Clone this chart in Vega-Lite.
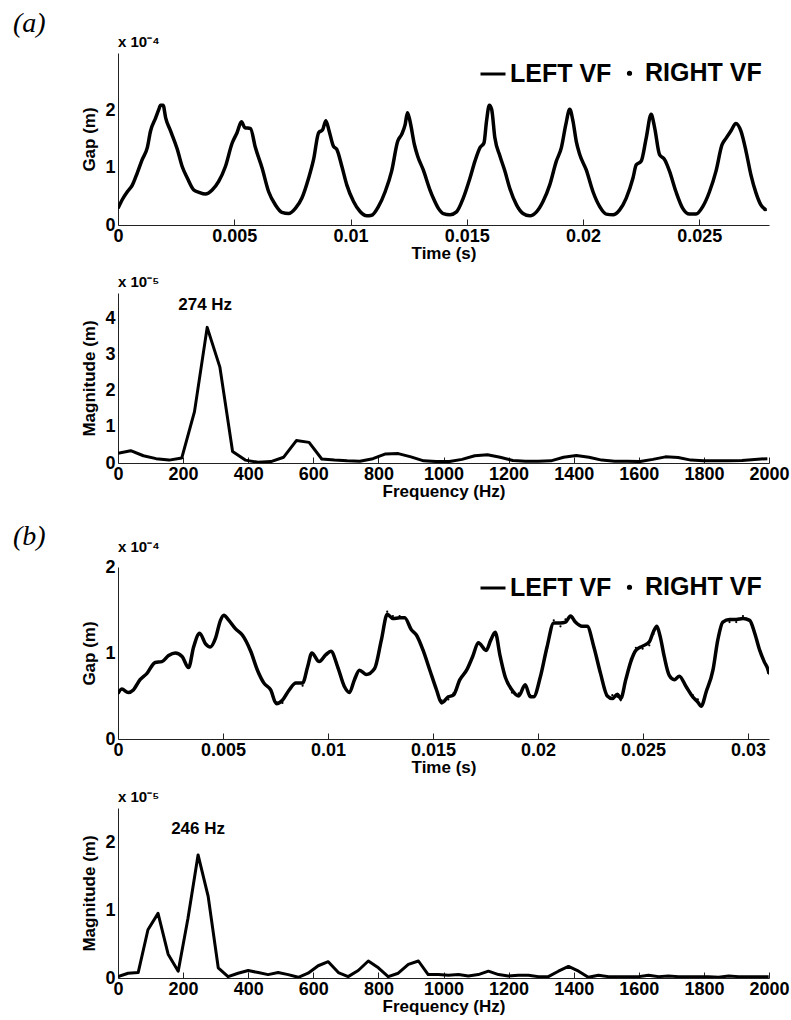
{
  "$schema": "https://vega.github.io/schema/vega-lite/v6.json",
  "padding": {"left": 12, "top": 10, "right": 5, "bottom": 5},
  "background": "white",
  "datasets": {
    "gapA": [
      {"t":0,"left":0.29e-4,"right":0.29e-4},{"t":0.00018,"left":0.44e-4,"right":0.44e-4},{"t":0.0004,"left":0.58e-4,"right":0.58e-4},{"t":0.00061,"left":0.69e-4,"right":0.69e-4},{"t":0.00083,"left":0.91e-4,"right":0.91e-4},{"t":0.00104,"left":1.14e-4,"right":1.14e-4},{"t":0.00126,"left":1.35e-4,"right":1.35e-4},{"t":0.0014,"left":1.64e-4,"right":1.64e-4},{"t":0.00162,"left":1.87e-4,"right":1.87e-4},{"t":0.00176,"left":2.02e-4,"right":2.02e-4},{"t":0.00183,"left":2.09e-4,"right":2.09e-4},{"t":0.00194,"left":2.09e-4,"right":2.09e-4},{"t":0.00205,"left":1.87e-4,"right":1.87e-4},{"t":0.00226,"left":1.64e-4,"right":1.64e-4},{"t":0.00255,"left":1.32e-4,"right":1.32e-4},{"t":0.00276,"left":1.02e-4,"right":1.02e-4},{"t":0.00298,"left":0.82e-4,"right":0.82e-4},{"t":0.00326,"left":0.61e-4,"right":0.61e-4},{"t":0.00348,"left":0.57e-4,"right":0.57e-4},{"t":0.00376,"left":0.54e-4,"right":0.54e-4},{"t":0.00405,"left":0.61e-4,"right":0.61e-4},{"t":0.00433,"left":0.76e-4,"right":0.76e-4},{"t":0.00462,"left":1.02e-4,"right":1.02e-4},{"t":0.00491,"left":1.43e-4,"right":1.43e-4},{"t":0.00512,"left":1.61e-4,"right":1.61e-4},{"t":0.00531,"left":1.80e-4,"right":1.80e-4},{"t":0.00545,"left":1.70e-4,"right":1.70e-4},{"t":0.0057,"left":1.68e-4,"right":1.68e-4},{"t":0.00591,"left":1.35e-4,"right":1.35e-4},{"t":0.0062,"left":0.99e-4,"right":0.99e-4},{"t":0.00648,"left":0.58e-4,"right":0.58e-4},{"t":0.00677,"left":0.35e-4,"right":0.35e-4},{"t":0.00705,"left":0.22e-4,"right":0.22e-4},{"t":0.00734,"left":0.20e-4,"right":0.20e-4},{"t":0.00763,"left":0.29e-4,"right":0.29e-4},{"t":0.00791,"left":0.47e-4,"right":0.47e-4},{"t":0.0082,"left":0.82e-4,"right":0.82e-4},{"t":0.00841,"left":1.14e-4,"right":1.14e-4},{"t":0.00863,"left":1.61e-4,"right":1.61e-4},{"t":0.0088,"left":1.66e-4,"right":1.66e-4},{"t":0.00894,"left":1.82e-4,"right":1.82e-4},{"t":0.00908,"left":1.64e-4,"right":1.64e-4},{"t":0.00927,"left":1.37e-4,"right":1.37e-4},{"t":0.00941,"left":1.32e-4,"right":1.32e-4},{"t":0.00963,"left":1.02e-4,"right":1.02e-4},{"t":0.00984,"left":0.70e-4,"right":0.70e-4},{"t":0.01013,"left":0.41e-4,"right":0.41e-4},{"t":0.01042,"left":0.23e-4,"right":0.23e-4},{"t":0.0107,"left":0.16e-4,"right":0.16e-4},{"t":0.01091,"left":0.17e-4,"right":0.17e-4},{"t":0.0112,"left":0.32e-4,"right":0.32e-4},{"t":0.01149,"left":0.58e-4,"right":0.58e-4},{"t":0.01177,"left":0.94e-4,"right":0.94e-4},{"t":0.01203,"left":1.46e-4,"right":1.46e-4},{"t":0.0122,"left":1.58e-4,"right":1.58e-4},{"t":0.01235,"left":1.75e-4,"right":1.75e-4},{"t":0.01245,"left":1.96e-4,"right":1.96e-4},{"t":0.01256,"left":1.81e-4,"right":1.81e-4},{"t":0.01275,"left":1.40e-4,"right":1.40e-4},{"t":0.01289,"left":1.20e-4,"right":1.20e-4},{"t":0.01313,"left":0.96e-4,"right":0.96e-4},{"t":0.01342,"left":0.61e-4,"right":0.61e-4},{"t":0.01356,"left":0.47e-4,"right":0.47e-4},{"t":0.01378,"left":0.29e-4,"right":0.29e-4},{"t":0.01399,"left":0.20e-4,"right":0.20e-4},{"t":0.01428,"left":0.18e-4,"right":0.18e-4},{"t":0.01456,"left":0.23e-4,"right":0.23e-4},{"t":0.01485,"left":0.47e-4,"right":0.47e-4},{"t":0.01514,"left":0.82e-4,"right":0.82e-4},{"t":0.01535,"left":1.11e-4,"right":1.11e-4},{"t":0.01557,"left":1.35e-4,"right":1.35e-4},{"t":0.01574,"left":1.43e-4,"right":1.43e-4},{"t":0.01585,"left":1.81e-4,"right":1.81e-4},{"t":0.01597,"left":2.09e-4,"right":2.09e-4},{"t":0.01607,"left":2.02e-4,"right":2.02e-4},{"t":0.01621,"left":1.52e-4,"right":1.52e-4},{"t":0.01643,"left":1.20e-4,"right":1.20e-4},{"t":0.01664,"left":0.94e-4,"right":0.94e-4},{"t":0.01685,"left":0.64e-4,"right":0.64e-4},{"t":0.01714,"left":0.35e-4,"right":0.35e-4},{"t":0.01742,"left":0.20e-4,"right":0.20e-4},{"t":0.01771,"left":0.16e-4,"right":0.16e-4},{"t":0.018,"left":0.23e-4,"right":0.23e-4},{"t":0.01828,"left":0.41e-4,"right":0.41e-4},{"t":0.01857,"left":0.70e-4,"right":0.70e-4},{"t":0.01885,"left":1.11e-4,"right":1.11e-4},{"t":0.01907,"left":1.35e-4,"right":1.35e-4},{"t":0.01926,"left":1.75e-4,"right":1.75e-4},{"t":0.01943,"left":2.02e-4,"right":2.02e-4},{"t":0.01957,"left":1.81e-4,"right":1.81e-4},{"t":0.01971,"left":1.46e-4,"right":1.46e-4},{"t":0.01986,"left":1.23e-4,"right":1.23e-4},{"t":0.02014,"left":0.96e-4,"right":0.96e-4},{"t":0.02043,"left":0.58e-4,"right":0.58e-4},{"t":0.02072,"left":0.32e-4,"right":0.32e-4},{"t":0.021,"left":0.19e-4,"right":0.19e-4},{"t":0.02129,"left":0.18e-4,"right":0.18e-4},{"t":0.02157,"left":0.26e-4,"right":0.26e-4},{"t":0.02186,"left":0.47e-4,"right":0.47e-4},{"t":0.02215,"left":0.82e-4,"right":0.82e-4},{"t":0.02229,"left":1.05e-4,"right":1.05e-4},{"t":0.0225,"left":1.11e-4,"right":1.11e-4},{"t":0.02272,"left":1.52e-4,"right":1.52e-4},{"t":0.02293,"left":1.93e-4,"right":1.93e-4},{"t":0.02308,"left":1.70e-4,"right":1.70e-4},{"t":0.02329,"left":1.23e-4,"right":1.23e-4},{"t":0.02351,"left":1.14e-4,"right":1.14e-4},{"t":0.02372,"left":0.94e-4,"right":0.94e-4},{"t":0.024,"left":0.58e-4,"right":0.58e-4},{"t":0.02429,"left":0.29e-4,"right":0.29e-4},{"t":0.02458,"left":0.19e-4,"right":0.19e-4},{"t":0.02486,"left":0.19e-4,"right":0.19e-4},{"t":0.02515,"left":0.32e-4,"right":0.32e-4},{"t":0.02544,"left":0.58e-4,"right":0.58e-4},{"t":0.02572,"left":0.94e-4,"right":0.94e-4},{"t":0.02598,"left":1.40e-4,"right":1.40e-4},{"t":0.02615,"left":1.51e-4,"right":1.51e-4},{"t":0.02636,"left":1.64e-4,"right":1.64e-4},{"t":0.02658,"left":1.77e-4,"right":1.77e-4},{"t":0.02679,"left":1.64e-4,"right":1.64e-4},{"t":0.02701,"left":1.29e-4,"right":1.29e-4},{"t":0.02722,"left":0.88e-4,"right":0.88e-4},{"t":0.02744,"left":0.56e-4,"right":0.56e-4},{"t":0.02765,"left":0.35e-4,"right":0.35e-4},{"t":0.02787,"left":0.26e-4,"right":0.26e-4}
    ],
    "specA": [
      {"f":0,"mag":0.27e-5},{"f":39,"mag":0.34e-5},{"f":78,"mag":0.20e-5},{"f":117,"mag":0.12e-5},{"f":157,"mag":0.08e-5},{"f":196,"mag":0.14e-5},{"f":235,"mag":1.42e-5},{"f":274,"mag":3.75e-5,"peak":"274 Hz"},{"f":313,"mag":2.65e-5},{"f":352,"mag":0.32e-5},{"f":391,"mag":0.08e-5},{"f":430,"mag":0.02e-5},{"f":470,"mag":0.04e-5},{"f":509,"mag":0.16e-5},{"f":548,"mag":0.62e-5},{"f":587,"mag":0.57e-5},{"f":626,"mag":0.11e-5},{"f":665,"mag":0.08e-5},{"f":704,"mag":0.06e-5},{"f":743,"mag":0.05e-5},{"f":783,"mag":0.12e-5},{"f":822,"mag":0.25e-5},{"f":861,"mag":0.26e-5},{"f":900,"mag":0.17e-5},{"f":939,"mag":0.06e-5},{"f":978,"mag":0.04e-5},{"f":1018,"mag":0.04e-5},{"f":1057,"mag":0.10e-5},{"f":1096,"mag":0.20e-5},{"f":1135,"mag":0.23e-5},{"f":1174,"mag":0.16e-5},{"f":1213,"mag":0.07e-5},{"f":1252,"mag":0.05e-5},{"f":1291,"mag":0.05e-5},{"f":1330,"mag":0.06e-5},{"f":1369,"mag":0.16e-5},{"f":1408,"mag":0.21e-5},{"f":1447,"mag":0.16e-5},{"f":1486,"mag":0.08e-5},{"f":1526,"mag":0.05e-5},{"f":1565,"mag":0.05e-5},{"f":1604,"mag":0.04e-5},{"f":1643,"mag":0.10e-5},{"f":1682,"mag":0.17e-5},{"f":1721,"mag":0.15e-5},{"f":1760,"mag":0.08e-5},{"f":1799,"mag":0.06e-5},{"f":1838,"mag":0.06e-5},{"f":1877,"mag":0.06e-5},{"f":1917,"mag":0.07e-5},{"f":1956,"mag":0.10e-5},{"f":1995,"mag":0.12e-5}
    ],
    "gapB": [
      {"t":0,"left":0.53e-4,"right":0.53e-4},{"t":0.00018,"left":0.58e-4,"right":0.58e-4},{"t":0.00049,"left":0.54e-4,"right":0.54e-4},{"t":0.00073,"left":0.57e-4,"right":0.57e-4},{"t":0.00105,"left":0.69e-4,"right":0.69e-4},{"t":0.00137,"left":0.76e-4,"right":0.76e-4},{"t":0.00177,"left":0.89e-4,"right":0.89e-4},{"t":0.00209,"left":0.90e-4,"right":0.90e-4},{"t":0.00241,"left":0.97e-4,"right":0.97e-4},{"t":0.00273,"left":1.00e-4,"right":1.00e-4},{"t":0.00305,"left":0.96e-4,"right":0.96e-4},{"t":0.00336,"left":0.83e-4,"right":0.83e-4},{"t":0.0036,"left":1.07e-4,"right":1.07e-4},{"t":0.00389,"left":1.23e-4,"right":1.23e-4},{"t":0.00416,"left":1.11e-4,"right":1.11e-4},{"t":0.0044,"left":1.07e-4,"right":1.07e-4},{"t":0.00464,"left":1.17e-4,"right":1.17e-4},{"t":0.00488,"left":1.38e-4,"right":1.38e-4},{"t":0.00504,"left":1.44e-4,"right":1.44e-4},{"t":0.00528,"left":1.38e-4,"right":1.38e-4},{"t":0.0056,"left":1.28e-4,"right":1.28e-4},{"t":0.00592,"left":1.21e-4,"right":1.21e-4},{"t":0.00632,"left":1.02e-4,"right":1.02e-4},{"t":0.00664,"left":0.80e-4,"right":0.80e-4},{"t":0.00695,"left":0.65e-4,"right":0.65e-4},{"t":0.00727,"left":0.57e-4,"right":0.57e-4},{"t":0.00754,"left":0.41e-4,"right":0.43e-4},{"t":0.00783,"left":0.45e-4,"right":0.42e-4},{"t":0.00815,"left":0.57e-4,"right":0.57e-4},{"t":0.00847,"left":0.65e-4,"right":0.65e-4},{"t":0.00879,"left":0.65e-4,"right":0.62e-4},{"t":0.00903,"left":0.84e-4,"right":0.84e-4},{"t":0.00923,"left":1.00e-4,"right":1.00e-4},{"t":0.00958,"left":0.90e-4,"right":0.90e-4},{"t":0.0099,"left":0.98e-4,"right":0.98e-4},{"t":0.01014,"left":1.02e-4,"right":1.02e-4},{"t":0.01046,"left":0.84e-4,"right":0.84e-4},{"t":0.01078,"left":0.61e-4,"right":0.61e-4},{"t":0.01102,"left":0.54e-4,"right":0.54e-4},{"t":0.01126,"left":0.69e-4,"right":0.69e-4},{"t":0.0115,"left":0.80e-4,"right":0.80e-4},{"t":0.01182,"left":0.75e-4,"right":0.75e-4},{"t":0.01222,"left":0.82e-4,"right":0.82e-4},{"t":0.01254,"left":1.15e-4,"right":1.15e-4},{"t":0.01282,"left":1.45e-4,"right":1.48e-4},{"t":0.01309,"left":1.40e-4,"right":1.43e-4},{"t":0.01341,"left":1.41e-4,"right":1.43e-4},{"t":0.01365,"left":1.41e-4,"right":1.41e-4},{"t":0.01397,"left":1.27e-4,"right":1.27e-4},{"t":0.01421,"left":1.21e-4,"right":1.21e-4},{"t":0.01453,"left":1.03e-4,"right":1.03e-4},{"t":0.01485,"left":0.80e-4,"right":0.80e-4},{"t":0.01517,"left":0.57e-4,"right":0.57e-4},{"t":0.01541,"left":0.42e-4,"right":0.45e-4},{"t":0.01573,"left":0.49e-4,"right":0.46e-4},{"t":0.01597,"left":0.51e-4,"right":0.53e-4},{"t":0.01628,"left":0.69e-4,"right":0.69e-4},{"t":0.0166,"left":0.80e-4,"right":0.80e-4},{"t":0.01689,"left":0.96e-4,"right":0.96e-4},{"t":0.01716,"left":1.12e-4,"right":1.12e-4},{"t":0.01753,"left":1.03e-4,"right":1.03e-4},{"t":0.01775,"left":1.15e-4,"right":1.15e-4},{"t":0.01796,"left":1.24e-4,"right":1.24e-4},{"t":0.0182,"left":0.96e-4,"right":0.96e-4},{"t":0.01844,"left":0.72e-4,"right":0.72e-4},{"t":0.01876,"left":0.57e-4,"right":0.54e-4},{"t":0.01908,"left":0.50e-4,"right":0.53e-4},{"t":0.01939,"left":0.63e-4,"right":0.63e-4},{"t":0.01963,"left":0.49e-4,"right":0.51e-4},{"t":0.01979,"left":0.49e-4,"right":0.49e-4},{"t":0.02011,"left":0.72e-4,"right":0.72e-4},{"t":0.02043,"left":1.07e-4,"right":1.07e-4},{"t":0.02075,"left":1.35e-4,"right":1.38e-4},{"t":0.02107,"left":1.35e-4,"right":1.31e-4},{"t":0.02131,"left":1.36e-4,"right":1.39e-4},{"t":0.02155,"left":1.43e-4,"right":1.43e-4},{"t":0.02178,"left":1.36e-4,"right":1.36e-4},{"t":0.0221,"left":1.31e-4,"right":1.31e-4},{"t":0.02234,"left":1.31e-4,"right":1.31e-4},{"t":0.02266,"left":1.07e-4,"right":1.07e-4},{"t":0.02298,"left":0.76e-4,"right":0.76e-4},{"t":0.0233,"left":0.50e-4,"right":0.50e-4},{"t":0.02354,"left":0.47e-4,"right":0.51e-4},{"t":0.02378,"left":0.52e-4,"right":0.49e-4},{"t":0.02394,"left":0.47e-4,"right":0.45e-4},{"t":0.02418,"left":0.69e-4,"right":0.69e-4},{"t":0.02442,"left":0.90e-4,"right":0.93e-4},{"t":0.02466,"left":1.03e-4,"right":1.06e-4},{"t":0.02498,"left":1.08e-4,"right":1.05e-4},{"t":0.0253,"left":1.13e-4,"right":1.09e-4},{"t":0.0255,"left":1.25e-4,"right":1.22e-4},{"t":0.02566,"left":1.31e-4,"right":1.31e-4},{"t":0.02582,"left":1.19e-4,"right":1.19e-4},{"t":0.02601,"left":0.96e-4,"right":0.96e-4},{"t":0.02625,"left":0.74e-4,"right":0.74e-4},{"t":0.02649,"left":0.69e-4,"right":0.69e-4},{"t":0.02673,"left":0.73e-4,"right":0.73e-4},{"t":0.02705,"left":0.61e-4,"right":0.61e-4},{"t":0.02737,"left":0.49e-4,"right":0.51e-4},{"t":0.02761,"left":0.43e-4,"right":0.46e-4},{"t":0.02777,"left":0.38e-4,"right":0.38e-4},{"t":0.02801,"left":0.55e-4,"right":0.55e-4},{"t":0.02833,"left":0.80e-4,"right":0.80e-4},{"t":0.02856,"left":1.15e-4,"right":1.15e-4},{"t":0.0288,"left":1.36e-4,"right":1.36e-4},{"t":0.02912,"left":1.39e-4,"right":1.36e-4},{"t":0.02944,"left":1.39e-4,"right":1.36e-4},{"t":0.02976,"left":1.40e-4,"right":1.43e-4},{"t":0.03008,"left":1.38e-4,"right":1.38e-4},{"t":0.03032,"left":1.23e-4,"right":1.23e-4},{"t":0.03056,"left":1.03e-4,"right":1.03e-4},{"t":0.03077,"left":0.90e-4,"right":0.90e-4},{"t":0.03096,"left":0.80e-4,"right":0.80e-4},{"t":0.031,"left":0.76e-4,"right":0.76e-4}
    ],
    "specB": [
      {"f":0,"mag":0.02e-5},{"f":31,"mag":0.07e-5},{"f":62,"mag":0.08e-5},{"f":92,"mag":0.71e-5},{"f":123,"mag":0.95e-5},{"f":154,"mag":0.35e-5},{"f":185,"mag":0.10e-5},{"f":215,"mag":0.88e-5},{"f":246,"mag":1.81e-5,"peak":"246 Hz"},{"f":277,"mag":1.20e-5},{"f":308,"mag":0.15e-5},{"f":338,"mag":0.02e-5},{"f":369,"mag":0.07e-5},{"f":400,"mag":0.11e-5},{"f":431,"mag":0.08e-5},{"f":461,"mag":0.05e-5},{"f":492,"mag":0.08e-5},{"f":523,"mag":0.05e-5},{"f":554,"mag":0.01e-5},{"f":584,"mag":0.07e-5},{"f":615,"mag":0.18e-5},{"f":646,"mag":0.24e-5},{"f":677,"mag":0.08e-5},{"f":707,"mag":0.02e-5},{"f":738,"mag":0.11e-5},{"f":769,"mag":0.25e-5},{"f":800,"mag":0.15e-5},{"f":830,"mag":0.02e-5},{"f":861,"mag":0.07e-5},{"f":892,"mag":0.20e-5},{"f":923,"mag":0.25e-5},{"f":953,"mag":0.05e-5},{"f":984,"mag":0.05e-5},{"f":1015,"mag":0.04e-5},{"f":1046,"mag":0.05e-5},{"f":1076,"mag":0.03e-5},{"f":1107,"mag":0.05e-5},{"f":1138,"mag":0.10e-5},{"f":1169,"mag":0.05e-5},{"f":1199,"mag":0.03e-5},{"f":1230,"mag":0.04e-5},{"f":1261,"mag":0.04e-5},{"f":1292,"mag":0.02e-5},{"f":1322,"mag":0.02e-5},{"f":1353,"mag":0.10e-5},{"f":1384,"mag":0.17e-5},{"f":1415,"mag":0.10e-5},{"f":1445,"mag":0.01e-5},{"f":1476,"mag":0.04e-5},{"f":1507,"mag":0.02e-5},{"f":1538,"mag":0.02e-5},{"f":1568,"mag":0.02e-5},{"f":1599,"mag":0.02e-5},{"f":1630,"mag":0.04e-5},{"f":1661,"mag":0.02e-5},{"f":1691,"mag":0.03e-5},{"f":1722,"mag":0.02e-5},{"f":1753,"mag":0.02e-5},{"f":1784,"mag":0.02e-5},{"f":1814,"mag":0.02e-5},{"f":1845,"mag":0.01e-5},{"f":1876,"mag":0.03e-5},{"f":1907,"mag":0.02e-5},{"f":1937,"mag":0.02e-5},{"f":1968,"mag":0.02e-5},{"f":1999,"mag":0.02e-5}
    ]
  },
  "vconcat": [
    {
      "title": {"text": "(a)", "anchor": "start", "font": "Liberation Serif", "fontStyle": "italic", "fontWeight": "normal", "fontSize": 28, "dx": -68, "offset": -3},
      "spacing": 14,
      "vconcat": [
        {
          "width": 651, "height": 172,
          "title": {"text": "x 10⁻⁴", "anchor": "start", "frame": "group", "fontSize": 15, "fontWeight": "bold", "font": "Liberation Sans", "offset": 3},
          "data": {"name": "gapA"},
          "transform": [{"fold": ["left", "right"], "as": ["side", "gap"]}],
          "encoding": {
            "x": {"field": "t", "type": "quantitative", "title": "Time (s)", "scale": {"domain": [0, 0.028], "nice": false, "zero": false},
                  "axis": {"values": [0, 0.005, 0.01, 0.015, 0.02, 0.025], "format": ".3~f"}},
            "y": {"field": "gap", "type": "quantitative", "title": "Gap (m)", "scale": {"domain": [0, 0.0003], "nice": false},
                  "axis": {"values": [0, 0.0001, 0.0002], "labelExpr": "round(datum.value*1e4)"}},
            "color": {"field": "side", "type": "nominal", "scale": {"domain": ["left", "right"], "range": ["black", "black"]},
              "legend": {"title": null, "orient": "top-right", "direction": "horizontal", "labelExpr": "datum.value === 'left' ? 'LEFT VF' : 'RIGHT VF'"}}
          },
          "layer": [
            {"transform": [{"filter": "datum.side === 'left'"}],
             "mark": {"type": "line", "strokeWidth": 3.5, "strokeJoin": "round", "interpolate": "monotone", "clip": true}},
            {"transform": [{"filter": "datum.side === 'right'"}],
             "mark": {"type": "point", "filled": true, "opacity": 1, "clip": true},
             "encoding": {
               "shape": {"field": "side", "type": "nominal", "scale": {"domain": ["left", "right"], "range": ["stroke", "circle"]},
                 "legend": {"title": null, "orient": "top-right", "direction": "horizontal", "labelExpr": "datum.value === 'left' ? 'LEFT VF' : 'RIGHT VF'"}},
               "size": {"field": "side", "type": "nominal", "scale": {"domain": ["left", "right"], "range": [625, 5]},
                 "legend": {"title": null, "orient": "top-right", "direction": "horizontal", "labelExpr": "datum.value === 'left' ? 'LEFT VF' : 'RIGHT VF'"}}
             }}
          ],
          "resolve": {"scale": {"color": "shared", "shape": "shared", "size": "shared"}}
        },
        {
          "width": 651, "height": 170,
          "title": {"text": "x 10⁻⁵", "anchor": "start", "frame": "group", "fontSize": 15, "fontWeight": "bold", "font": "Liberation Sans", "offset": 3},
          "data": {"name": "specA"},
          "layer": [
            {
              "mark": {"type": "line", "color": "black", "strokeWidth": 3, "strokeJoin": "round", "clip": true},
              "encoding": {
                "x": {"field": "f", "type": "quantitative", "title": "Frequency (Hz)", "scale": {"domain": [0, 2000], "nice": false},
                      "axis": {"values": [0, 200, 400, 600, 800, 1000, 1200, 1400, 1600, 1800, 2000], "format": "d"}},
                "y": {"field": "mag", "type": "quantitative", "title": "Magnitude (m)", "scale": {"domain": [0, 0.000047], "nice": false},
                      "axis": {"values": [0, 0.00001, 0.00002, 0.00003, 0.00004], "labelExpr": "round(datum.value*1e5)"}}
              }
            },
            {
              "transform": [{"filter": "isValid(datum.peak)"}],
              "mark": {"type": "text", "font": "Liberation Sans", "fontWeight": "bold", "fontSize": 17, "color": "black", "dy": -22, "dx": -2},
              "encoding": {
                "x": {"field": "f", "type": "quantitative"},
                "y": {"field": "mag", "type": "quantitative"},
                "text": {"field": "peak"}
              }
            }
          ]
        }
      ],
      "resolve": {"scale": {"color": "independent", "shape": "independent", "size": "independent"}, "legend": {"color": "independent", "shape": "independent", "size": "independent"}}
    },
    {
      "title": {"text": "(b)", "anchor": "start", "font": "Liberation Serif", "fontStyle": "italic", "fontWeight": "normal", "fontSize": 28, "dx": -68, "offset": -11},
      "spacing": 15,
      "vconcat": [
        {
          "width": 651, "height": 172,
          "title": {"text": "x 10⁻⁴", "anchor": "start", "frame": "group", "fontSize": 15, "fontWeight": "bold", "font": "Liberation Sans", "offset": 3},
          "data": {"name": "gapB"},
          "transform": [{"fold": ["left", "right"], "as": ["side", "gap"]}],
          "encoding": {
            "x": {"field": "t", "type": "quantitative", "title": "Time (s)", "scale": {"domain": [0, 0.031], "nice": false, "zero": false},
                  "axis": {"values": [0, 0.005, 0.01, 0.015, 0.02, 0.025, 0.03], "format": ".3~f"}},
            "y": {"field": "gap", "type": "quantitative", "title": "Gap (m)", "scale": {"domain": [0, 0.0002], "nice": false},
                  "axis": {"values": [0, 0.0001, 0.0002], "labelExpr": "round(datum.value*1e4)"}},
            "color": {"field": "side", "type": "nominal", "scale": {"domain": ["left", "right"], "range": ["black", "black"]},
              "legend": {"title": null, "orient": "top-right", "direction": "horizontal", "labelExpr": "datum.value === 'left' ? 'LEFT VF' : 'RIGHT VF'"}}
          },
          "layer": [
            {"transform": [{"filter": "datum.side === 'left'"}],
             "mark": {"type": "line", "strokeWidth": 3.5, "strokeJoin": "round", "interpolate": "monotone", "clip": true}},
            {"transform": [{"filter": "datum.side === 'right'"}],
             "mark": {"type": "point", "filled": true, "opacity": 1, "clip": true},
             "encoding": {
               "shape": {"field": "side", "type": "nominal", "scale": {"domain": ["left", "right"], "range": ["stroke", "circle"]},
                 "legend": {"title": null, "orient": "top-right", "direction": "horizontal", "labelExpr": "datum.value === 'left' ? 'LEFT VF' : 'RIGHT VF'"}},
               "size": {"field": "side", "type": "nominal", "scale": {"domain": ["left", "right"], "range": [625, 5]},
                 "legend": {"title": null, "orient": "top-right", "direction": "horizontal", "labelExpr": "datum.value === 'left' ? 'LEFT VF' : 'RIGHT VF'"}}
             }}
          ],
          "resolve": {"scale": {"color": "shared", "shape": "shared", "size": "shared"}}
        },
        {
          "width": 651, "height": 170,
          "title": {"text": "x 10⁻⁵", "anchor": "start", "frame": "group", "fontSize": 15, "fontWeight": "bold", "font": "Liberation Sans", "offset": 3},
          "data": {"name": "specB"},
          "layer": [
            {
              "mark": {"type": "line", "color": "black", "strokeWidth": 3, "strokeJoin": "round", "clip": true},
              "encoding": {
                "x": {"field": "f", "type": "quantitative", "title": "Frequency (Hz)", "scale": {"domain": [0, 2000], "nice": false},
                      "axis": {"values": [0, 200, 400, 600, 800, 1000, 1200, 1400, 1600, 1800, 2000], "format": "d"}},
                "y": {"field": "mag", "type": "quantitative", "title": "Magnitude (m)", "scale": {"domain": [0, 0.000025], "nice": false},
                      "axis": {"values": [0, 0.00001, 0.00002], "labelExpr": "round(datum.value*1e5)"}}
              }
            },
            {
              "transform": [{"filter": "isValid(datum.peak)"}],
              "mark": {"type": "text", "font": "Liberation Sans", "fontWeight": "bold", "fontSize": 17, "color": "black", "dy": -26, "dx": 0},
              "encoding": {
                "x": {"field": "f", "type": "quantitative"},
                "y": {"field": "mag", "type": "quantitative"},
                "text": {"field": "peak"}
              }
            }
          ]
        }
      ],
      "resolve": {"scale": {"color": "independent", "shape": "independent", "size": "independent"}, "legend": {"color": "independent", "shape": "independent", "size": "independent"}}
    }
  ],
  "spacing": 24,
  "resolve": {"scale": {"color": "independent", "shape": "independent", "size": "independent"}, "legend": {"color": "independent", "shape": "independent", "size": "independent"}},
  "config": {
    "view": {"stroke": null},
    "font": "Liberation Sans",
    "legend": {"offset": 7, "padding": 0, "labelFont": "Liberation Sans", "labelFontSize": 25, "labelFontWeight": "bold", "labelColor": "black",
               "symbolStrokeWidth": 3, "symbolStrokeColor": "black", "symbolOpacity": 1, "labelOffset": 3, "columnPadding": 5},
    "axis": {"labelFont": "Liberation Sans", "labelFontWeight": "bold", "labelFontSize": 18, "labelColor": "black",
             "titleFont": "Liberation Sans", "titleFontWeight": "bold", "titleFontSize": 17, "titleColor": "black",
             "grid": false, "domainColor": "#222", "tickColor": "#222", "domainWidth": 1, "labelOverlap": false, "labelFlush": false},
    "axisX": {"tickSize": -6, "labelPadding": 8, "titlePadding": 0},
    "axisY": {"ticks": false, "labelPadding": 3, "titlePadding": 6}
  }
}
